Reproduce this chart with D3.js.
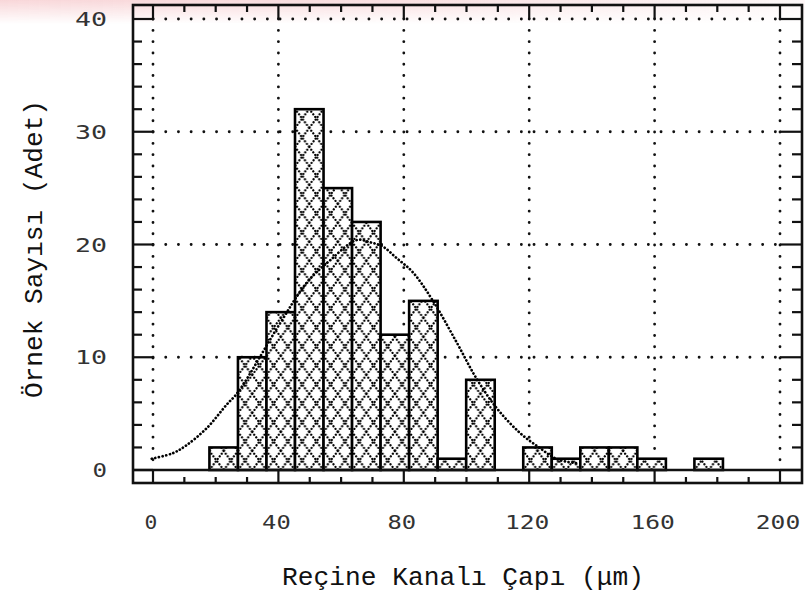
<!DOCTYPE html>
<html>
<head>
<meta charset="utf-8">
<script src="https://cdn.jsdelivr.net/npm/d3@7"></script>
<style>
  html, body { margin: 0; padding: 0; background: #fff; }
  svg { display: block; }
</style>
</head>
<body>
<svg id="chart" width="805" height="606"></svg>
<script>
// ---- data ----
const binLow = [18.0, 27.1, 36.2, 45.3, 54.4, 63.5, 72.6, 81.7, 90.8, 99.9, 109.0, 118.1, 127.2, 136.3, 145.4, 154.5, 163.6, 172.7];
const binWidth = 9.1;
const counts = [2, 10, 14, 32, 25, 22, 12, 15, 1, 8, 0, 2, 1, 2, 2, 1, 0, 1];
const curveX = [-0.4, 6.4, 10.7, 17.1, 23.5, 27.1, 40.5, 49, 56.5, 65, 69.2, 73.4, 77.7, 83, 89.3, 96.9, 103, 109.6, 117, 123.4, 128.8, 135];
const curveY = [1.0, 1.5, 2.2, 3.7, 5.8, 6.9, 13, 16.6, 18.6, 20.4, 20.2, 19.8, 18.8, 17.5, 15, 11.3, 8.2, 5.5, 3.3, 1.95, 0.97, 0.6];
const xTicks = [0, 40, 80, 120, 160, 200];
const yTicks = [0, 10, 20, 30, 40];
const xTitle = "Reçine Kanalı Çapı (μm)";
const yTitle = "Örnek Sayısı (Adet)";

// ---- layout ----
const frame = { left: 133, right: 802, top: 5, bottom: 483 };
const x = d3.scaleLinear().domain([0, 200]).range([153, 780]);
const y = d3.scaleLinear().domain([0, 40]).range([470, 19]);

const svg = d3.select("#chart");
const defs = svg.append("defs");

// pink scan smear at top
const grad = defs.append("linearGradient").attr("id", "pinkband").attr("x1", 0).attr("x2", 1).attr("y1", 0).attr("y2", 0);
grad.append("stop").attr("offset", "0%").attr("stop-color", "#f6c9cc").attr("stop-opacity", 0.75);
grad.append("stop").attr("offset", "50%").attr("stop-color", "#f6c9cc").attr("stop-opacity", 0.6);
grad.append("stop").attr("offset", "100%").attr("stop-color", "#f6c9cc").attr("stop-opacity", 0.15);
const vgrad = defs.append("linearGradient").attr("id", "pinkfade").attr("x1", 0).attr("x2", 0).attr("y1", 0).attr("y2", 1);
vgrad.append("stop").attr("offset", "0%").attr("stop-color", "#fff").attr("stop-opacity", 1);
vgrad.append("stop").attr("offset", "100%").attr("stop-color", "#fff").attr("stop-opacity", 0);
const mask = defs.append("mask").attr("id", "pinkmask");
mask.append("rect").attr("x", 0).attr("y", 0).attr("width", 805).attr("height", 24).attr("fill", "url(#pinkfade)");
svg.append("rect").attr("x", 0).attr("y", 0).attr("width", 805).attr("height", 24)
  .attr("fill", "url(#pinkband)").attr("mask", "url(#pinkmask)");

// hatch pattern (dotted cross-hatch), two cells per bin
const cellW = (x(binLow[0] + binWidth) - x(binLow[0])) / 2;
const cellH = 19;
const pat = defs.append("pattern").attr("id", "hatch")
  .attr("patternUnits", "userSpaceOnUse")
  .attr("x", x(binLow[0])).attr("y", y(0))
  .attr("width", cellW).attr("height", cellH);
pat.append("rect").attr("width", cellW).attr("height", cellH).attr("fill", "#fff");
[[0, 0, cellW, cellH], [cellW, 0, 0, cellH]].forEach(l => {
  pat.append("line").attr("x1", l[0]).attr("y1", l[1]).attr("x2", l[2]).attr("y2", l[3])
    .attr("stroke", "#000").attr("stroke-width", 2.2).attr("stroke-linecap", "round")
    .attr("stroke-dasharray", "0.1,3.2");
});

// dotted grid
const grid = svg.append("g").attr("stroke", "#111").attr("stroke-width", 2.8)
  .attr("stroke-linecap", "round").attr("fill", "none");
xTicks.forEach(v => {
  grid.append("line").attr("x1", x(v)).attr("x2", x(v)).attr("y1", y(40)).attr("y2", y(0))
    .attr("stroke-dasharray", "0.1,11.2");
});
yTicks.filter(v => v > 0).forEach(v => {
  grid.append("line").attr("x1", x(0)).attr("x2", x(200)).attr("y1", y(v)).attr("y2", y(v))
    .attr("stroke-dasharray", "0.1,12.6");
});

// bars
svg.append("g").selectAll("rect").data(counts.map((c, i) => ({ lo: binLow[i], c })))
  .join("rect")
  .filter(d => d.c > 0)
  .attr("x", d => x(d.lo))
  .attr("y", d => y(d.c))
  .attr("width", d => x(d.lo + binWidth) - x(d.lo))
  .attr("height", d => y(0) - y(d.c))
  .attr("fill", "url(#hatch)")
  .attr("stroke", "#000").attr("stroke-width", 2.6);

// fitted curve (dotted)
const line = d3.line().x(d => x(d[0])).y(d => y(d[1])).curve(d3.curveCatmullRom.alpha(0.5));
svg.append("path").datum(curveX.map((v, i) => [v, curveY[i]]))
  .attr("d", line).attr("fill", "none").attr("stroke", "#000")
  .attr("stroke-width", 2.7).attr("stroke-linecap", "round").attr("stroke-dasharray", "0.1,3.6");

// baseline at y = 0
svg.append("line").attr("x1", frame.left).attr("x2", frame.right).attr("y1", y(0)).attr("y2", y(0))
  .attr("stroke", "#111").attr("stroke-width", 2.4);

// frame
svg.append("rect").attr("x", frame.left).attr("y", frame.top)
  .attr("width", frame.right - frame.left).attr("height", frame.bottom - frame.top)
  .attr("fill", "none").attr("stroke", "#111").attr("stroke-width", 2.6);

// ticks
const tk = svg.append("g").attr("stroke", "#111").attr("stroke-width", 2.2);
d3.range(0, 201, 10).forEach(v => {
  const major = v % 40 === 0;
  tk.append("line").attr("x1", x(v)).attr("x2", x(v)).attr("y1", frame.bottom).attr("y2", major ? y(0) : frame.bottom - 6);
  tk.append("line").attr("x1", x(v)).attr("x2", x(v)).attr("y1", frame.top).attr("y2", major ? y(40) : frame.top + 7);
});
d3.range(0, 41, 2).forEach(v => {
  const major = v % 10 === 0;
  tk.append("line").attr("y1", y(v)).attr("y2", y(v)).attr("x1", frame.left).attr("x2", major ? x(0) : frame.left + 9);
  tk.append("line").attr("y1", y(v)).attr("y2", y(v)).attr("x1", frame.right).attr("x2", major ? x(200) : frame.right - 10);
});

// tick labels
const tickFont = "'DejaVu Sans Mono', monospace";
svg.append("g").selectAll("text").data(xTicks).join("text")
  .attr("x", d => x(d) - 2).attr("y", 529)
  .attr("text-anchor", "middle")
  .attr("font-family", tickFont).attr("font-size", 20)
  .attr("fill", "#333")
  .attr("textLength", d => String(d).length * 15.8 - 3)
  .attr("lengthAdjust", "spacingAndGlyphs")
  .text(d => d);
svg.append("g").selectAll("text").data(yTicks).join("text")
  .attr("x", 107).attr("y", d => y(d) + 7)
  .attr("text-anchor", "end")
  .attr("font-family", tickFont).attr("font-size", 20)
  .attr("fill", "#333")
  .attr("textLength", d => String(d).length * 17.5 - 3)
  .attr("lengthAdjust", "spacingAndGlyphs")
  .text(d => d);

// axis titles
const titleFont = "'Liberation Mono', 'DejaVu Sans Mono', monospace";
svg.append("text").attr("x", 463).attr("y", 585)
  .attr("text-anchor", "middle")
  .attr("font-family", titleFont).attr("font-size", 25)
  .attr("fill", "#111")
  .attr("textLength", 362).attr("lengthAdjust", "spacingAndGlyphs")
  .text(xTitle);
svg.append("text").attr("transform", "translate(42,249) rotate(-90)")
  .attr("text-anchor", "middle")
  .attr("font-family", titleFont).attr("font-size", 25)
  .attr("fill", "#111")
  .attr("textLength", 298).attr("lengthAdjust", "spacingAndGlyphs")
  .text(yTitle);
</script>
</body>
</html>
